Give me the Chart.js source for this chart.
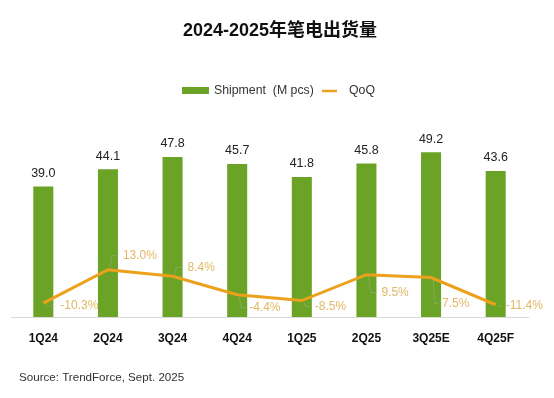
<!DOCTYPE html>
<html>
<head>
<meta charset="utf-8">
<script src="https://cdn.jsdelivr.net/npm/chart.js@4"></script>
<style>
html,body{margin:0;padding:0;background:#fff;}
#wrap{width:554px;height:398px;position:relative;}
</style>
</head>
<body>
<div id="wrap"><canvas id="c" width="554" height="398"></canvas></div>
<script>
const categories = ['1Q24','2Q24','3Q24','4Q24','1Q25','2Q25','3Q25E','4Q25F'];
const shipments = [39.0, 44.1, 47.8, 45.7, 41.8, 45.8, 49.2, 43.6];
const qoq = [-10.3, 13.0, 8.4, -4.4, -8.5, 9.5, 7.5, -11.4];
const titleText = '2024-2025年笔电出货量';
const legendLabels = ['Shipment  (M pcs)', 'QoQ'];
const sourceText = 'Source: TrendForce, Sept. 2025';

// label placement (style/layout, not data)
const pctLabelOffsets = [[17,3],[15,-14],[15,-9],[12,13],[13,6],[15,18],[11,26],[10,1]];

const GREEN = '#6AA325';
const ORANGE = '#EBA11B';
const PCT_COLOR = '#E2B766';

const overlay = {
  id: 'overlay',
  afterDatasetsDraw(chart) {
    const ctx = chart.ctx;
    const barMeta = chart.getDatasetMeta(0);
    const lineMeta = chart.getDatasetMeta(1);
    ctx.save();
    // bar value labels
    ctx.fillStyle = '#222';
    ctx.font = '12.5px "Liberation Sans", Arial, sans-serif';
    ctx.textAlign = 'center';
    ctx.textBaseline = 'middle';
    barMeta.data.forEach((b, i) => {
      ctx.fillText(shipments[i].toFixed(1), b.x, b.y - 13);
    });
    // pct labels with faint leader lines
    ctx.font = '12px "Liberation Sans", Arial, sans-serif';
    ctx.textAlign = 'left';
    lineMeta.data.forEach((p, i) => {
      const [dx, dy] = pctLabelOffsets[i];
      const lx = p.x + dx, ly = p.y + dy;
      ctx.strokeStyle = 'rgba(190,190,190,0.45)';
      ctx.lineWidth = 0.7;
      ctx.beginPath();
      ctx.moveTo(p.x + 2, p.y + (dy > 0 ? 2 : -2));
      ctx.lineTo(p.x + 4, ly);
      ctx.lineTo(lx - 4, ly);
      ctx.stroke();
      ctx.fillStyle = PCT_COLOR;
      ctx.fillText(qoq[i].toFixed(1) + '%', lx, ly);
    });
    ctx.restore();
  },
  afterDraw(chart) {
    const ctx = chart.ctx;
    ctx.save();
    // title
    ctx.fillStyle = '#111';
    ctx.font = 'bold 18px "Liberation Sans", "Noto Sans CJK SC", sans-serif';
    ctx.textAlign = 'center';
    ctx.textBaseline = 'middle';
    ctx.fillText(titleText, 280, 31);
    // legend
    ctx.fillStyle = GREEN;
    ctx.fillRect(182, 87, 27, 7);
    ctx.strokeStyle = ORANGE;
    ctx.lineWidth = 2.5;
    ctx.beginPath();
    ctx.moveTo(322, 91);
    ctx.lineTo(337, 91);
    ctx.stroke();
    ctx.fillStyle = '#333';
    ctx.font = '12.3px "Liberation Sans", Arial, sans-serif';
    ctx.textAlign = 'left';
    ctx.fillText(legendLabels[0], 214, 91);
    ctx.fillText(legendLabels[1], 349, 91);
    // source
    ctx.fillStyle = '#333';
    ctx.font = '11.6px "Liberation Sans", Arial, sans-serif';
    ctx.fillText(sourceText, 19, 378);
    ctx.restore();
  }
};

new Chart(document.getElementById('c'), {
  data: {
    labels: categories,
    datasets: [
      {
        type: 'bar',
        label: legendLabels[0],
        data: shipments,
        backgroundColor: GREEN,
        yAxisID: 'y',
        barPercentage: 0.62,
        categoryPercentage: 0.5,
        order: 2
      },
      {
        type: 'line',
        label: legendLabels[1],
        data: qoq,
        borderColor: ORANGE,
        borderWidth: 3,
        pointRadius: 0,
        tension: 0,
        yAxisID: 'y2',
        order: 1
      }
    ]
  },
  options: {
    responsive: false,
    animation: false,
    layout: { padding: { left: 11, right: 26, top: 116, bottom: 45.5 } },
    plugins: {
      legend: { display: false },
      title: { display: false },
      tooltip: { enabled: false }
    },
    scales: {
      x: {
        grid: { display: false },
        border: { display: true, color: '#D9D9D9', width: 1 },
        ticks: {
          color: '#111',
          font: { family: '"Liberation Sans", Arial, sans-serif', size: 12, weight: 'bold' },
          padding: 6.5,
          maxRotation: 0,
          autoSkip: false
        }
      },
      y: { display: false, min: 0, max: 60 },
      y2: { display: false, min: -20, max: 120 }
    }
  },
  plugins: [overlay]
});
</script>
</body>
</html>
